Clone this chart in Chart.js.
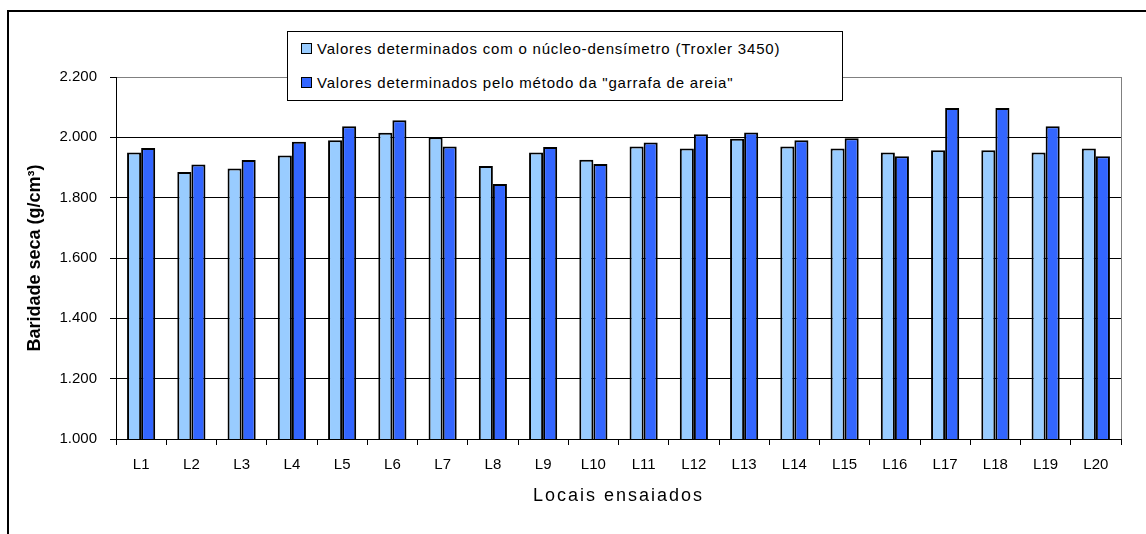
<!DOCTYPE html>
<html>
<head>
<meta charset="utf-8">
<script src="https://cdn.jsdelivr.net/npm/chart.js@4.4.1/dist/chart.umd.min.js"></script>
<style>
  html, body { margin: 0; padding: 0; background: #fff; }
  #wrap { position: relative; width: 1146px; height: 534px; overflow: hidden; }
  #frame { position: absolute; left: 7px; top: 10px; right: -10px; bottom: -10px; border-left: 2px solid #000; border-top: 2px solid #000; }
  #chart { position: absolute; left: 0; top: 0; }
  #legend { position: absolute; left: 287px; top: 31px; width: 554px; height: 68px; border: 1px solid #000; background: #fff;
            font: 15px "Liberation Sans", Arial, sans-serif; letter-spacing: 0.8px; color: #000; }
  .item { position: absolute; left: 13px; height: 18px; display: flex; align-items: center; white-space: nowrap; }
  .sw { width: 9px; height: 9px; border: 1px solid #000; margin-right: 5px; }
</style>
</head>
<body>
<div id="wrap">
  <div id="frame"></div>
  <canvas id="chart" width="1146" height="534"></canvas>
  <div id="legend"></div>
</div>
<script>
const locais = ['L1', 'L2', 'L3', 'L4', 'L5', 'L6', 'L7', 'L8', 'L9', 'L10',
                'L11', 'L12', 'L13', 'L14', 'L15', 'L16', 'L17', 'L18', 'L19', 'L20'];
// nucleo-densimetro (Troxler 3450)
const troxler = [1950, 1885, 1897, 1940, 1990, 2015, 2000, 1905, 1950, 1926,
                 1970, 1963, 1995, 1970, 1963, 1950, 1957, 1957, 1950, 1963];
// metodo da garrafa de areia
const garrafa = [1965, 1910, 1925, 1985, 2037, 2057, 1970, 1845, 1968, 1912,
                 1983, 2010, 2016, 1990, 1997, 1937, 2097, 2097, 2037, 1937];
const yTicks = [1000, 1200, 1400, 1600, 1800, 2000, 2200];

Chart.defaults.font.family = '"Liberation Sans", Arial, sans-serif';
Chart.defaults.color = '#000';

// 1950 -> "1.950"
const fmt = v => String(v).replace(/(\d)(\d{3})$/, '$1.$2');

// the x title in the original is letter-spaced
const spacedTitle = {
  id: 'spacedTitle',
  afterLayout(chart) {
    const s = chart.scales.x;
    if (s._spaced) return;
    const orig = s.drawTitle;
    s.drawTitle = function () {
      this.ctx.save();
      this.ctx.letterSpacing = '2px';
      orig.call(this);
      this.ctx.restore();
    };
    s._spaced = true;
  }
};

const chart = new Chart(document.getElementById('chart'), {
  type: 'bar',
  data: {
    labels: locais,
    datasets: [
      {
        label: 'Valores determinados com o núcleo-densímetro (Troxler 3450)',
        data: troxler,
        backgroundColor: '#99CCFF',
        borderColor: '#000',
        borderWidth: 2,
        categoryPercentage: 0.56,
        barPercentage: 1.0
      },
      {
        label: 'Valores determinados pelo método da "garrafa de areia"',
        data: garrafa,
        backgroundColor: '#3366FF',
        borderColor: '#000',
        borderWidth: 2,
        categoryPercentage: 0.56,
        barPercentage: 1.0
      }
    ]
  },
  options: {
    responsive: false,
    animation: false,
    layout: { padding: { top: 77, right: 25, left: 0, bottom: 0 } },
    plugins: {
      legend: { display: false },
      tooltip: { enabled: false }
    },
    scales: {
      x: {
        offset: true,
        grid: {
          offset: true,
          // only the right edge of the plot area is drawn (grey)
          color: c => c.tick ? 'rgba(0,0,0,0)' : '#808080',
          tickColor: '#000',
          tickLength: 6
        },
        border: { color: '#000', width: 1 },
        ticks: { font: { size: 15 }, padding: 11, maxRotation: 0, autoSkip: false },
        title: { display: true, text: 'Locais ensaiados', font: { size: 18 }, padding: { top: 0, bottom: 27 } },
        afterFit: s => { s.height = 95; }
      },
      y: {
        min: 1000,
        max: 2200,
        afterBuildTicks: s => { s.ticks = yTicks.map(v => ({ value: v })); },
        grid: {
          color: c => (c.tick && c.tick.value === 2200) ? '#808080' : '#000',
          tickColor: '#000',
          tickLength: 6
        },
        border: { color: '#000', width: 1 },
        ticks: { font: { size: 15 }, padding: 13, callback: v => fmt(v) },
        title: { display: true, text: 'Baridade seca (g/cm³)', font: { size: 18, weight: 'bold' }, padding: { top: 24 } },
        afterFit: s => { s.width = 116; }
      }
    }
  },
  plugins: [spacedTitle]
});

// legend box sits on top of the plot, like the excel one
const legendEl = document.getElementById('legend');
chart.data.datasets.forEach((ds, i) => {
  const item = document.createElement('div');
  item.className = 'item';
  item.style.top = (7 + i * 34) + 'px';
  const sw = document.createElement('span');
  sw.className = 'sw';
  sw.style.background = ds.backgroundColor;
  const txt = document.createElement('span');
  txt.textContent = ds.label;
  item.appendChild(sw);
  item.appendChild(txt);
  legendEl.appendChild(item);
});
</script>
</body>
</html>
